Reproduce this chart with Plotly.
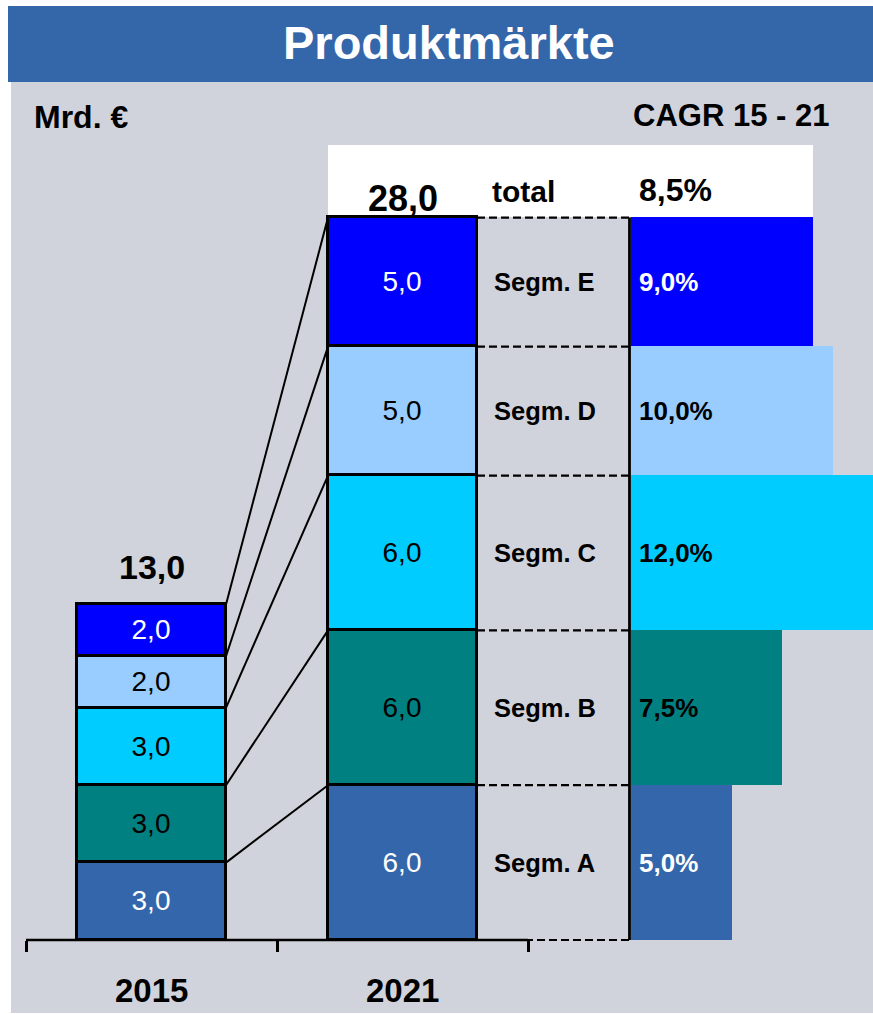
import numpy as np
import plotly.graph_objects as go

# ---------------- data ----------------
segments = ["Segm. A", "Segm. B", "Segm. C", "Segm. D", "Segm. E"]
years = ["2015", "2021"]
values_2015 = [3.0, 3.0, 3.0, 2.0, 2.0]
values_2021 = [6.0, 6.0, 6.0, 5.0, 5.0]
cagr = [5.0, 7.5, 12.0, 10.0, 9.0]
total_cagr = 8.5
title_text = "Produktmärkte"
unit_text = "Mrd. €"
cagr_header = "CAGR 15 - 21"
total_label = "total"

# ---------------- styles ----------------
colors = ["#3366AA", "#008080", "#00CCFF", "#99CCFF", "#0000FF"]
text_colors = ["white", "black", "black", "black", "white"]
BG_GRAY = "#D0D3DB"
TITLE_BLUE = "#3466AA"
FONT = "Liberation Sans, Arial, sans-serif"

W, H = 873, 1014
PX_CAT = 251.0        # pixels per category
AX_LEFT = 26          # pixel of left axis end
PXU = 25.8            # pixels per Mrd
Y_AXIS_PX = 940       # pixel of value 0
Y_LO, Y_HI = -0.4, 28.4
BAR_W = 149 / PX_CAT


def fmt(v):
    return f"{v:.1f}".replace(".", ",")


def px2x(p):
    return -0.5 + (p - AX_LEFT) / PX_CAT


def pfx(p):
    return p / W


def pfy(p):
    return 1 - p / H


COL_END = px2x(629.5)
LABEL_X = px2x(492)

tot15 = sum(values_2015)
tot21 = sum(values_2021)
cum15 = np.cumsum([0] + values_2015)
cum21 = np.cumsum([0] + values_2021)
mid21 = (cum21[:-1] + cum21[1:]) / 2

fig = go.Figure()

# stacked bars
for i, seg in enumerate(segments):
    fig.add_trace(go.Bar(
        x=[0, 1], y=[values_2015[i], values_2021[i]], width=BAR_W,
        marker=dict(color=colors[i], line=dict(color="black", width=3)),
        text=[fmt(values_2015[i]), fmt(values_2021[i])],
        textposition="inside", insidetextanchor="middle", textangle=0,
        constraintext="none",
        textfont=dict(family=FONT, size=28, color=text_colors[i]),
        name=seg, showlegend=False, hoverinfo="skip",
        xaxis="x", yaxis="y"))

# CAGR bars
fig.add_trace(go.Bar(
    orientation="h", x=cagr, y=mid21, width=values_2021,
    marker=dict(color=colors, line=dict(width=0)),
    xaxis="x2", yaxis="y", showlegend=False, hoverinfo="skip"))

# connectors
for k in range(1, len(cum15)):
    fig.add_trace(go.Scatter(
        x=[BAR_W / 2, 1 - BAR_W / 2], y=[cum15[k], cum21[k]], mode="lines",
        line=dict(color="black", width=2), showlegend=False, hoverinfo="skip",
        xaxis="x", yaxis="y"))

# dashed separators in label column
for k in range(len(cum21)):
    fig.add_trace(go.Scatter(
        x=[1 + BAR_W / 2, COL_END], y=[cum21[k], cum21[k]], mode="lines",
        line=dict(color="black", width=2.2, dash="8px,4px"), showlegend=False,
        hoverinfo="skip", xaxis="x", yaxis="y"))

# vertical line
fig.add_trace(go.Scatter(
    x=[COL_END, COL_END], y=[0, tot21], mode="lines",
    line=dict(color="black", width=2.8), showlegend=False, hoverinfo="skip",
    xaxis="x", yaxis="y"))

# category axis line
fig.add_trace(go.Scatter(
    x=[-0.5, 1.5], y=[0, 0], mode="lines",
    line=dict(color="black", width=2.5), showlegend=False, hoverinfo="skip",
    xaxis="x", yaxis="y"))

annotations = []
# title
annotations.append(dict(text=f"<b>{title_text}</b>", x=pfx(449), y=pfy(43),
                        xref="paper", yref="paper", showarrow=False,
                        font=dict(family=FONT, size=47, color="white"),
                        xanchor="center", yanchor="middle"))
annotations.append(dict(text=f"<b>{unit_text}</b>", x=pfx(32), y=pfy(117),
                        xref="paper", yref="paper", showarrow=False,
                        font=dict(family=FONT, size=32, color="black"),
                        xanchor="left", yanchor="middle"))
annotations.append(dict(text=f"<b>{cagr_header}</b>", x=pfx(831), y=pfy(115),
                        xref="paper", yref="paper", showarrow=False,
                        font=dict(family=FONT, size=31, color="black"),
                        xanchor="right", yanchor="middle"))
# totals
annotations.append(dict(text=f"<b>{fmt(tot15)}</b>", x=0, y=tot15, xref="x", yref="y",
                        yshift=38, showarrow=False, xanchor="center", yanchor="middle",
                        font=dict(family=FONT, size=34, color="black")))
annotations.append(dict(text=f"<b>{fmt(tot21)}</b>", x=1, y=tot21, xref="x", yref="y",
                        yshift=19, showarrow=False, xanchor="center", yanchor="middle",
                        font=dict(family=FONT, size=36, color="black")))
annotations.append(dict(text=f"<b>{total_label}</b>", x=pfx(490), y=pfy(192),
                        xref="paper", yref="paper", showarrow=False,
                        xanchor="left", yanchor="middle",
                        font=dict(family=FONT, size=30, color="black")))
annotations.append(dict(text=f"<b>{fmt(total_cagr)}%</b>", x=pfx(637), y=pfy(190),
                        xref="paper", yref="paper", showarrow=False,
                        xanchor="left", yanchor="middle",
                        font=dict(family=FONT, size=32, color="black")))
# segment labels + CAGR values
for i, seg in enumerate(segments):
    annotations.append(dict(text=f"<b>{seg}</b>", x=LABEL_X, y=mid21[i], xref="x", yref="y",
                            showarrow=False, xanchor="left", yanchor="middle",
                            font=dict(family=FONT, size=25.5, color="black")))
    annotations.append(dict(text=f"<b>{fmt(cagr[i])}%</b>", x=0, y=mid21[i], xref="x2", yref="y",
                            xshift=6, showarrow=False, xanchor="left", yanchor="middle",
                            font=dict(family=FONT, size=26, color=text_colors[i])))
# year labels
for j, yr in enumerate(years):
    annotations.append(dict(text=f"<b>{yr}</b>", x=j, y=pfy(990), xref="x", yref="paper",
                            showarrow=False, xanchor="center", yanchor="middle",
                            font=dict(family=FONT, size=33, color="black")))

shapes = [
    dict(type="rect", xref="paper", yref="paper", x0=pfx(11), x1=1, y0=pfy(1013), y1=pfy(82),
         fillcolor=BG_GRAY, line=dict(width=0), layer="below"),
    dict(type="rect", xref="paper", yref="paper", x0=pfx(8), x1=1, y0=pfy(82), y1=pfy(6),
         fillcolor=TITLE_BLUE, line=dict(width=0), layer="below"),
    dict(type="rect", xref="paper", yref="paper", x0=pfx(328), x1=pfx(813), y0=pfy(217), y1=pfy(145),
         fillcolor="white", line=dict(width=0), layer="below"),
]

y_dom_bottom = Y_AXIS_PX - Y_LO * PXU
y_dom_top = Y_AXIS_PX - Y_HI * PXU

fig.update_layout(
    width=W, height=H, margin=dict(l=0, r=0, t=0, b=0),
    paper_bgcolor="white", plot_bgcolor="rgba(0,0,0,0)",
    barmode="stack", bargap=0, showlegend=False,
    font=dict(family=FONT),
    xaxis=dict(domain=[pfx(AX_LEFT), 1], range=[-0.5, px2x(W)],
               anchor="free", position=pfy(Y_AXIS_PX),
               tickmode="array", tickvals=[-0.5, 0.5, 1.5], ticks="outside",
               ticklen=11, tickwidth=2.5, tickcolor="black", showticklabels=False,
               showgrid=False, zeroline=False, showline=False, fixedrange=True),
    xaxis2=dict(domain=[pfx(629), 1], range=[-0.1, 12], anchor="y", visible=False,
                showgrid=False, zeroline=False, fixedrange=True),
    yaxis=dict(domain=[pfy(y_dom_bottom), pfy(y_dom_top)], range=[Y_LO, Y_HI],
               anchor="x", visible=False, showgrid=False, zeroline=False, fixedrange=True),
    annotations=annotations, shapes=shapes,
)

fig.write_html("out.html", config={"displayModeBar": False},
               post_script="document.body.style.margin='0';document.body.style.overflow='hidden';")
